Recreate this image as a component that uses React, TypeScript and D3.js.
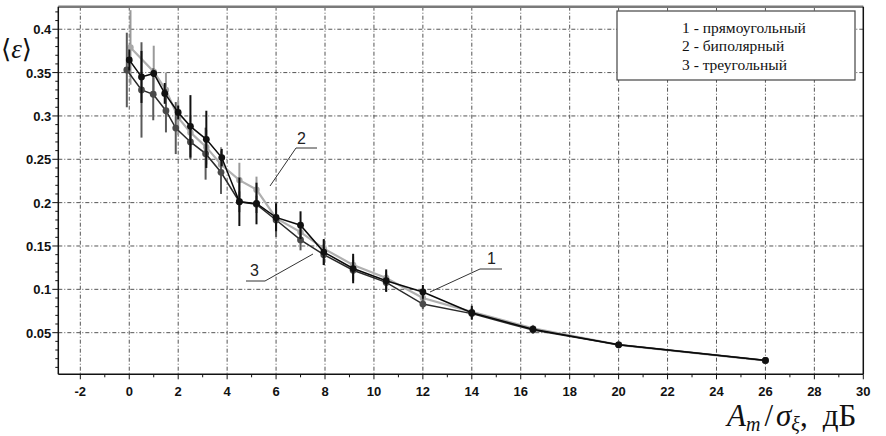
import React from "react";
import * as d3 from "d3";

// ---- data ----
const xTickValues = [-2, 0, 2, 4, 6, 8, 10, 12, 14, 16, 18, 20, 22, 24, 26, 28, 30];
const yTickValues = [0.05, 0.1, 0.15, 0.2, 0.25, 0.3, 0.35, 0.4];
const yTickLabels = ["0.05", "0.1", "0.15", "0.2", "0.25", "0.3", "0.35", "0.4"];

// 1 - прямоугольный
const x1 = [0, 0.5, 1.0, 1.45, 2.0, 2.5, 3.15, 3.78, 4.5, 5.2, 6.0, 7.0, 7.95, 9.15, 10.5, 12, 14, 16.5, 20, 26];
const y1 = [0.3646, 0.345, 0.349, 0.326, 0.304, 0.288, 0.273, 0.252, 0.201, 0.199, 0.183, 0.174, 0.143, 0.124, 0.11, 0.097, 0.073, 0.054, 0.036, 0.018];
const e1 = [0.012, 0.03, 0.004, 0.012, 0.008, 0.036, 0.033, 0.01, 0.028, 0.024, 0.016, 0.016, 0.015, 0.017, 0.013, 0.008, 0.008, 0.004, 0.003, 0.002];

// 2 - биполярный
const x2 = [0.05, 1.0, 1.5, 2.0, 2.5, 3.15, 3.75, 4.5, 5.2, 6.0, 7.0, 7.95, 9.15, 10.5, 12, 14, 16.5, 20, 26];
const y2 = [0.379, 0.351, 0.33, 0.298, 0.281, 0.264, 0.244, 0.226, 0.215, 0.182, 0.166, 0.147, 0.128, 0.113, 0.09, 0.074, 0.055, 0.036, 0.018];
const e2 = [0.043, 0.03, 0.02, 0.02, 0.02, 0.02, 0.02, 0.02, 0.015, 0.012, 0.012, 0.01, 0.01, 0.008, 0.006, 0.005, 0.004, 0.003, 0.002];

// 3 - треугольный
const x3 = [-0.1, 0.5, 0.98, 1.5, 1.9, 2.5, 3.12, 3.75, 4.5, 5.2, 6.0, 7.0, 7.95, 9.15, 10.5, 12, 14, 16.5, 20, 26];
const y3 = [0.353, 0.33, 0.325, 0.306, 0.286, 0.27, 0.2565, 0.235, 0.201, 0.198, 0.18, 0.157, 0.14, 0.122, 0.108, 0.083, 0.072, 0.053, 0.036, 0.018];
const e3 = [0.043, 0.055, 0.03, 0.025, 0.03, 0.02, 0.03, 0.025, 0.012, 0.01, 0.02, 0.012, 0.012, 0.012, 0.01, 0.006, 0.006, 0.004, 0.003, 0.002];

const legendLabels = ["1 - прямоугольный", "2 - биполярный", "3 - треугольный"];

type Pt = { x: number; y: number; e: number };
const zip = (xs: number[], ys: number[], es: number[]): Pt[] =>
  xs.map((x, i) => ({ x, y: ys[i], e: es[i] }));

export default function App() {
  const W = 886, H = 436;
  const L = 58.3, R = 863.3, T = 6.7, B = 374.3;
  const x = d3.scaleLinear().domain([-2.9, 30]).range([L, R]);
  const y = d3.scaleLinear().domain([0.002, 0.426]).range([B, T]);

  const line = d3.line<Pt>().x(d => x(d.x)).y(d => y(d.y));

  const series = [
    { pts: zip(x2, y2, e2), stroke: "#b0b0b0", width: 2.2, dot: "#a8a8a8", bar: "#9a9a9a", r: 3.2 },
    { pts: zip(x3, y3, e3), stroke: "#2a2a2a", width: 1.5, dot: "#4a4a4a", bar: "#5a5a5a", r: 3.4 },
    { pts: zip(x1, y1, e1), stroke: "#0a0a0a", width: 1.5, dot: "#111", bar: "#111", r: 3.4 },
  ];

  const xMinor = d3.range(-1, 30, 2);
  const yMinor = d3.range(0.01, 0.425, 0.01).filter(v => Math.abs(v * 20 - Math.round(v * 20)) > 1e-6);

  const tickFont = "'Liberation Sans', Arial, sans-serif";

  return (
    <svg width={W} height={H} style={{ position: "absolute", left: 0, top: 0, background: "#fff" }}>
      <rect x={0} y={0} width={W} height={H} fill="#fff" />
      {/* grid */}
      <g stroke="#555" strokeWidth={1} strokeDasharray="4 2 1 2">
        {xTickValues.filter(v => v < 30).map(v => (
          <line key={"gx" + v} x1={x(v)} x2={x(v)} y1={T} y2={B} />
        ))}
        {yTickValues.map(v => (
          <line key={"gy" + v} x1={L} x2={R} y1={y(v)} y2={y(v)} />
        ))}
      </g>

      {/* frame */}
      <line x1={L} x2={R} y1={T} y2={T} stroke="#7a7a7a" strokeWidth={2.5} />
      <line x1={R} x2={R} y1={T} y2={B} stroke="#111" strokeWidth={1.5} />
      <line x1={L} x2={L} y1={T} y2={B} stroke="#111" strokeWidth={1.5} />
      <line x1={L} x2={R} y1={B} y2={B} stroke="#111" strokeWidth={1.5} />

      {/* ticks */}
      <g stroke="#111" strokeWidth={1}>
        {xTickValues.map(v => (
          <line key={"tx" + v} x1={x(v)} x2={x(v)} y1={B} y2={B + 5} />
        ))}
        {xMinor.map(v => (
          <line key={"mx" + v} x1={x(v)} x2={x(v)} y1={B} y2={B + 3} />
        ))}
        {yTickValues.map(v => (
          <line key={"ty" + v} x1={L - 6} x2={L} y1={y(v)} y2={y(v)} />
        ))}
        {yMinor.map(v => (
          <line key={"my" + v.toFixed(2)} x1={L - 3} x2={L} y1={y(v)} y2={y(v)} />
        ))}
      </g>

      {/* tick labels */}
      <g fontFamily={tickFont} fontSize={13} fill="#111" fontWeight="bold">
        {xTickValues.map(v => (
          <text key={"lx" + v} x={x(v)} y={B + 22} textAnchor="middle">{v}</text>
        ))}
        {yTickValues.map((v, i) => (
          <text key={"ly" + v} x={L - 7} y={y(v) + 5} textAnchor="end">{yTickLabels[i]}</text>
        ))}
      </g>

      {/* series */}
      {series.map((s, si) => (
        <g key={"s" + si}>
          <path d={line(s.pts) || ""} fill="none" stroke={s.stroke} strokeWidth={s.width} />
          {s.pts.map((p, i) => (
            <line key={"e" + i} x1={x(p.x)} x2={x(p.x)} y1={y(p.y - p.e)} y2={y(p.y + p.e)} stroke={s.bar} strokeWidth={2} />
          ))}
          {s.pts.map((p, i) => (
            <circle key={"c" + i} cx={x(p.x)} cy={y(p.y)} r={s.r} fill={s.dot} />
          ))}
        </g>
      ))}

      {/* annotations */}
      <g stroke="#333" strokeWidth={1} fill="none">
        <polyline points="317,148 296,148 270,186" />
        <polyline points="246,281 265,281 313,254" />
        <polyline points="502,269 480,269 430,292" />
      </g>
      <g fontFamily={tickFont} fontSize={16} fill="#222">
        <text x={297} y={144}>2</text>
        <text x={250} y={276}>3</text>
        <text x={487} y={264}>1</text>
      </g>

      {/* legend */}
      <rect x={617} y={11} width={238} height={69} fill="#fff" stroke="#444" strokeWidth={1.2} />
      <g fontFamily="'Liberation Serif', 'Times New Roman', serif" fontSize={15.5} fill="#111">
        {legendLabels.map((t, i) => (
          <text key={t} x={682} y={33 + i * 18.3}>{t}</text>
        ))}
      </g>

      {/* axis titles */}
      <text x={1} y={58} fontFamily="'DejaVu Serif', serif" fontSize={26} fill="#111">
        <tspan>⟨</tspan><tspan fontStyle="italic" fontFamily="'Liberation Serif', serif" fontSize={27}>ε</tspan><tspan>⟩</tspan>
      </text>
      <text x={727} y={426} fontFamily="'Liberation Serif', 'Times New Roman', serif" fontSize={31} fill="#111">
        <tspan fontStyle="italic">A</tspan>
        <tspan fontStyle="italic" fontSize={20} dy={5}>m</tspan>
        <tspan dy={-5} dx={4}>/</tspan>
        <tspan fontStyle="italic" dx={3}>σ</tspan>
        <tspan fontStyle="italic" fontSize={20} dy={5}>ξ</tspan>
        <tspan dy={-5}>,</tspan>
        <tspan dx={15}>дБ</tspan>
      </text>
    </svg>
  );
}
